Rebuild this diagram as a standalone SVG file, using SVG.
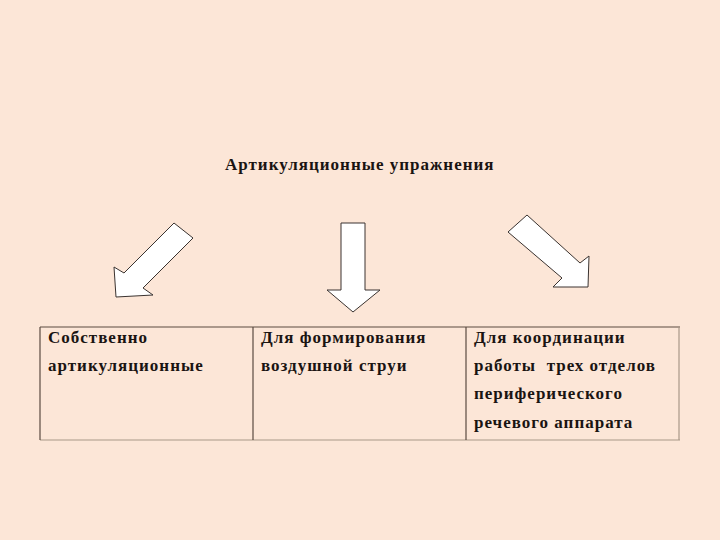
<svg xmlns="http://www.w3.org/2000/svg" width="720" height="540" viewBox="0 0 720 540">
<style>
.t{font-family:"Liberation Serif","Times New Roman",serif;font-weight:bold;font-size:17px;letter-spacing:1px;fill:#1a1412;white-space:pre}
.arr{fill:#ffffff;stroke:#3a3330;stroke-width:1;stroke-linejoin:miter}
.bd{stroke:#5a4a40;stroke-width:1.2;fill:none}
.lt{stroke:#a89888;stroke-width:1.2;fill:none}
</style>
<rect x="0" y="0" width="720" height="540" fill="#fce6d7"/>
<g id="title">
<text class="t" x="225" y="170">Артикуляционные упражнения</text>
</g>
<g id="connectors">
<polygon class="arr" points="174,223 193,238 143,288 153,295 116,297 114,267 124,273"/>
<polygon class="arr" points="341,223 365,223 365,290 380,290 353,312 327,290 341,290"/>
<polygon class="arr" points="508,232 527,215 580,263 589,256 588,287 553,287 562,278"/>
</g>
<g id="table">
<line class="bd" x1="40" y1="327" x2="680" y2="327"/>
<line class="lt" x1="40" y1="440" x2="680" y2="440"/>
<line class="bd" x1="40" y1="327" x2="40" y2="440"/>
<line class="bd" x1="253" y1="327" x2="253" y2="440"/>
<line class="bd" x1="466" y1="327" x2="466" y2="440"/>
<line class="lt" x1="679" y1="327" x2="679" y2="440"/>
</g>
<g id="cell1">
<text class="t" x="48" y="343">Собственно</text>
<text class="t" x="48" y="371">артикуляционные</text>
</g>
<g id="cell2">
<text class="t" x="261" y="343">Для формирования</text>
<text class="t" x="261" y="371">воздушной струи</text>
</g>
<g id="cell3">
<text class="t" x="474" y="343">Для координации</text>
<text class="t" x="474" y="371">работы  трех отделов</text>
<text class="t" x="474" y="399">периферического</text>
<text class="t" x="474" y="428">речевого аппарата</text>
</g>
</svg>
